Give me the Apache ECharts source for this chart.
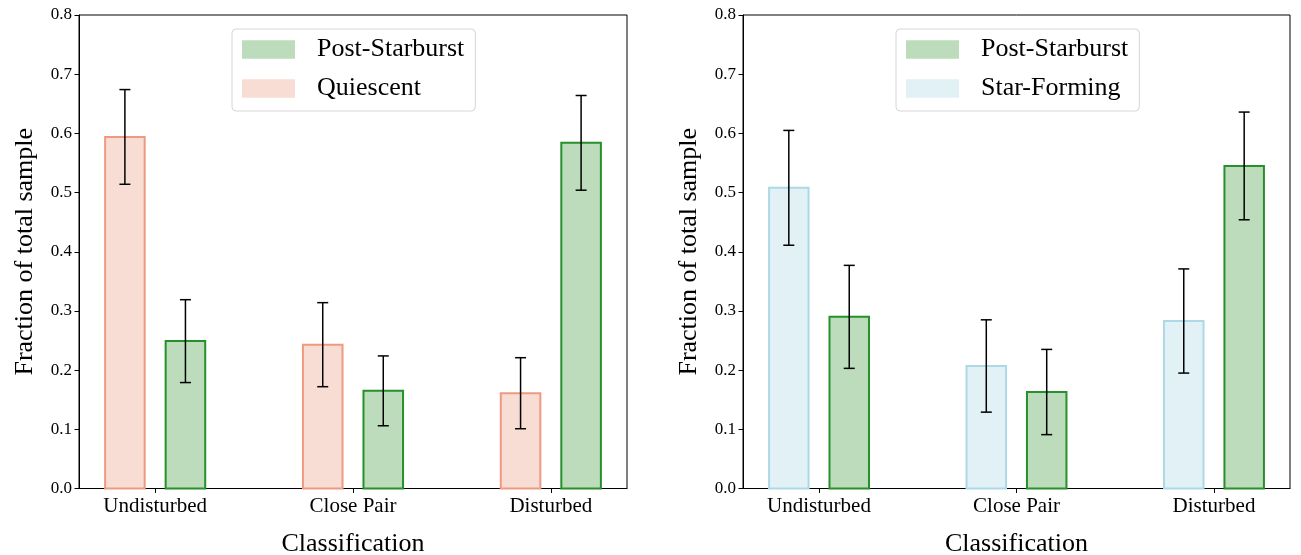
<!DOCTYPE html>
<html><head><meta charset="utf-8">
<script src="https://cdn.jsdelivr.net/npm/echarts@6/dist/echarts.min.js"></script>
<style>html,body{margin:0;padding:0;background:#fff}#c{width:1301px;height:555px}</style>
</head><body><div id="c"></div>
<script>
const categories = ['Undisturbed', 'Close Pair', 'Disturbed'];
const catPositions = [0, 1, 2];

// Left panel
const quiescent    = [0.594, 0.243, 0.161];
const quiescentErr = [0.080, 0.071, 0.060];
const psbLeft      = [0.249, 0.165, 0.584];
const psbLeftErr   = [0.070, 0.059, 0.080];

// Right panel
const starForming    = [0.508, 0.207, 0.283];
const starFormingErr = [0.097, 0.078, 0.088];
const psbRight       = [0.290, 0.163, 0.545];
const psbRightErr    = [0.087, 0.072, 0.091];

const FONT = '"Liberation Serif","Times New Roman",serif';
const X_MIN = -0.385, X_MAX = 2.385, BAR_W = 0.2, OFF = 0.153;

const COL = {
  psbFill: '#bcdcbc', psbEdge: '#26902a',
  qFill: '#f8ddd5', qEdge: '#ee9a80',
  sfFill: '#e2f1f6', sfEdge: '#add8e6'
};

function barSeries(name, g, vals, errs, offset, fill, edge) {
  return {
    type: 'custom', name, xAxisIndex: g, yAxisIndex: g,
    itemStyle: { color: fill, borderColor: edge, borderWidth: 2 },
    data: vals.map((v, i) => [catPositions[i], v, errs[i]]),
    encode: { x: 0, y: 1 },
    renderItem(params, api) {
      const x = api.value(0) + offset, y = api.value(1), e = api.value(2);
      const p0 = api.coord([x - BAR_W / 2, 0]);
      const p1 = api.coord([x + BAR_W / 2, y]);
      const top = api.coord([x, y + e]);
      const bot = api.coord([x, y - e]);
      const cap = 5.5;
      return {
        type: 'group',
        children: [
          { type: 'rect', shape: { x: p0[0], y: p1[1], width: p1[0] - p0[0], height: p0[1] - p1[1] },
            style: { fill: fill, stroke: edge, lineWidth: 2 } },
          { type: 'line', shape: { x1: top[0], y1: top[1], x2: bot[0], y2: bot[1] },
            style: { stroke: '#000', lineWidth: 1.5 } },
          { type: 'line', shape: { x1: top[0] - cap, y1: top[1], x2: top[0] + cap, y2: top[1] },
            style: { stroke: '#000', lineWidth: 1.5 } },
          { type: 'line', shape: { x1: bot[0] - cap, y1: bot[1], x2: bot[0] + cap, y2: bot[1] },
            style: { stroke: '#000', lineWidth: 1.5 } }
        ]
      };
    },
    z: 2
  };
}

function xAxis(g) {
  return {
    type: 'value', gridIndex: g, min: X_MIN, max: X_MAX,
    name: 'Classification', nameLocation: 'middle', nameGap: 43,
    nameTextStyle: { fontFamily: FONT, fontSize: 26, color: '#000' },
    axisLine: { show: true, onZero: false, lineStyle: { color: '#000', width: 1 } },
    axisTick: { show: true, customValues: catPositions, length: 4.5, lineStyle: { color: '#000' } },
    axisLabel: { customValues: catPositions, formatter: v => categories[Math.round(v)],
      fontFamily: FONT, fontSize: 21, color: '#000', margin: 7 },
    splitLine: { show: false }
  };
}
function yAxis(g) {
  return {
    type: 'value', gridIndex: g, min: 0, max: 0.8, interval: 0.1,
    name: 'Fraction of total sample', nameLocation: 'middle', nameGap: 41,
    nameTextStyle: { fontFamily: FONT, fontSize: 26, color: '#000' },
    axisLine: { show: true, onZero: false, lineStyle: { color: '#000', width: 1 } },
    axisTick: { show: true, length: 4.5, lineStyle: { color: '#000' } },
    axisLabel: { formatter: v => v.toFixed(1), fontFamily: FONT, fontSize: 17, color: '#000', margin: 7 },
    splitLine: { show: false }
  };
}
function legend(left, names) {
  return {
    orient: 'vertical', left: left, top: 29, selectedMode: false,
    data: names.map(n => ({ name: n, itemStyle: { borderWidth: 0 } })),
    icon: 'rect', itemWidth: 53, itemHeight: 18.5, itemGap: 10,
    padding: [6, 11, 8, 10],
    textStyle: { fontFamily: FONT, fontSize: 26, color: '#000', padding: [3, 0, 0, 17], lineHeight: 26 },
    borderColor: '#d6d6d6', borderWidth: 1, borderRadius: 4, backgroundColor: '#fff'
  };
}

const chart = echarts.init(document.getElementById('c'), null, { renderer: 'canvas' });
chart.setOption({
  animation: false,
  backgroundColor: '#fff',
  grid: [
    { left: 79, top: 15, width: 548, height: 473.5, outerBoundsMode: 'none', containLabel: false,
      show: true, borderColor: '#000', borderWidth: 1, backgroundColor: 'transparent' },
    { left: 743, top: 15, width: 547, height: 473.5, outerBoundsMode: 'none', containLabel: false,
      show: true, borderColor: '#000', borderWidth: 1, backgroundColor: 'transparent' }
  ],
  xAxis: [xAxis(0), xAxis(1)],
  yAxis: [yAxis(0), yAxis(1)],
  legend: [legend(232, ['Post-Starburst', 'Quiescent']), legend(896, ['Post-Starburst', 'Star-Forming'])],
  series: [
    barSeries('Quiescent', 0, quiescent, quiescentErr, -OFF, COL.qFill, COL.qEdge),
    barSeries('Post-Starburst', 0, psbLeft, psbLeftErr, OFF, COL.psbFill, COL.psbEdge),
    barSeries('Star-Forming', 1, starForming, starFormingErr, -OFF, COL.sfFill, COL.sfEdge),
    barSeries('Post-Starburst', 1, psbRight, psbRightErr, OFF, COL.psbFill, COL.psbEdge)
  ]
});
</script>
</body></html>
